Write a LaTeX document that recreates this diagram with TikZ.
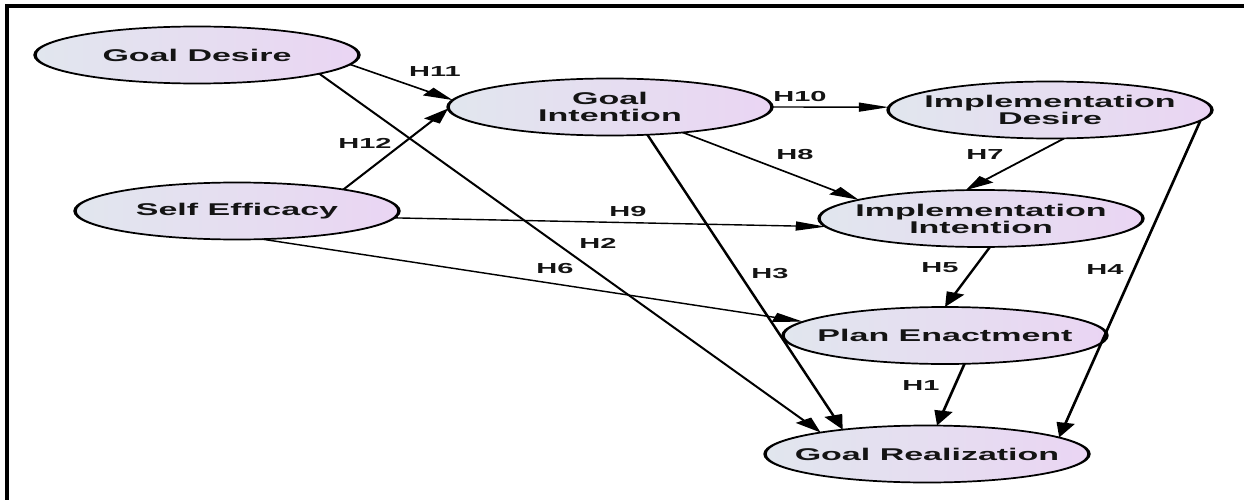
\documentclass[tikz,border=0pt]{standalone}
\usepackage{fontspec}
\setmainfont{Liberation Sans}
\usetikzlibrary{shapes.geometric,arrows.meta}
\definecolor{shL}{RGB}{225,230,238}
\definecolor{shR}{RGB}{234,213,243}
\definecolor{txt}{RGB}{20,20,20}
\tikzset{
 cnode/.style={ellipse, draw=black, line width=1.7pt, left color=shL, right color=shR,
   minimum width=162pt, minimum height=57pt, inner sep=0pt, outer sep=0pt},
 ntext/.style={font=\fontsize{17}{17}\selectfont\bfseries, text=txt, align=center, inner sep=0pt},
 hlab/.style={font=\fontsize{14.5}{14.5}\selectfont\bfseries, text=txt, inner sep=0pt},
 link/.style={line width=1.4pt, draw=black, -{Triangle[length=15pt,width=9pt]}},
}
\begin{document}
\begin{tikzpicture}[x=1pt,y=-1pt]
\useasboundingbox (0,0) rectangle (1244,500);
\fill[white] (0,0) rectangle (1244,500);
\draw[line width=4pt] (6.8,500) -- (6.8,5.7) -- (1244,5.7);
\begin{scope}[transform canvas={xscale=2}]
% ellipses
\node[cnode] (gd) at (98.5,55) {};
\node[cnode] (se) at (118.5,211) {};
\node[cnode] (gi) at (305,107) {};
\node[cnode] (id) at (525,110) {};
\node[cnode] (ii) at (490.5,218.5) {};
\node[cnode] (pe) at (472.5,335.5) {};
\node[cnode] (gr) at (463.5,454) {};
% connectors
\draw[link] (gd.-7.3) -- (gi.175);      % H11
\draw[link] (gd.-17.7) -- (gr.158);     % H2
\draw[link] (se.22.2) -- (gi.181.5);    % H12
\draw[link] (se.-5.7) -- (ii.186.3);    % H9
\draw[link] (se.-66.7) -- (pe.169.5);   % H6
\draw[link] (gi.-56.8) -- (gr.150);     % H3
\draw[link] (gi.0) -- (id.178);         % H10
\draw[link] (gi.-35.5) -- (ii.163.9);   % H8
\draw[link] (id.-76.9) -- (ii.105.2);   % H7
\draw[link] (ii.-81.3) -- (pe.90);      % H5
\draw[link] (id.-8.9) -- (gr.14);       % H4
\draw[link] (pe.-71.3) -- (gr.80.2);    % H1
% node texts
\node[ntext] (gdt) at (gd) {Goal Desire};
\node[ntext] (set) at (se) {Self Efficacy};
\node[ntext] (git) at (gi) {Goal\\Intention};
\node[ntext] (idt) at (id) {Implementation\\Desire};
\node[ntext] (iit) at (ii) {Implementation\\Intention};
\node[ntext] (pet) at (pe) {Plan Enactment};
\node[ntext] (grt) at (gr) {Goal Realization};
% hypothesis labels
\node[hlab] (h11) at (217.5,72) {H11};
\node[hlab] (h12) at (182.5,143) {H12};
\node[hlab] (h10) at (400,97) {H10};
\node[hlab] (h8) at (397.5,155) {H8};
\node[hlab] (h7) at (492.5,155) {H7};
\node[hlab] (h9) at (314,212) {H9};
\node[hlab] (h2) at (299,243) {H2};
\node[hlab] (h6) at (277.5,269) {H6};
\node[hlab] (h3) at (385,274) {H3};
\node[hlab] (h5) at (470,268) {H5};
\node[hlab] (h4) at (552.5,270) {H4};
\node[hlab] (h1) at (460.5,386) {H1};
\end{scope}
\end{tikzpicture}
\end{document}
